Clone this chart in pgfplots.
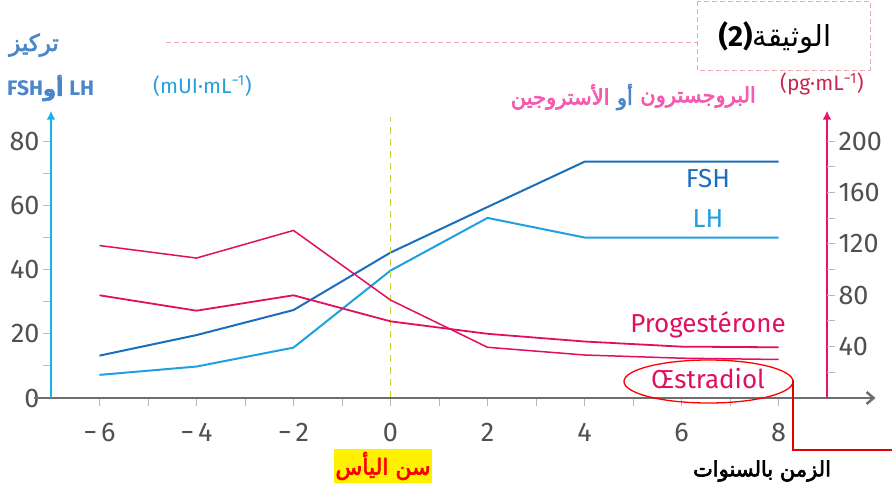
\documentclass[border=0pt]{standalone}
\usepackage{fontspec}
\setmainfont{Fira Sans}
\newfontfamily\arabicfont[Script=Arabic]{DejaVu Sans}
\newfontfamily\arabicbold[Script=Arabic,FakeBold=3]{DejaVu Sans}
\TeXXeTstate=1
\usepackage{pgfplots}
\pgfplotsset{compat=1.18}
\usetikzlibrary{arrows.meta}
\definecolor{fshblue}{RGB}{25,110,190}
\definecolor{lhblue}{RGB}{30,160,225}
\definecolor{hpink}{RGB}{225,15,95}
\definecolor{axcyan}{RGB}{20,180,230}
\definecolor{axpink}{RGB}{230,20,110}
\definecolor{axgray}{RGB}{110,110,110}
\definecolor{tickgray}{RGB}{80,80,80}
\definecolor{titleblue}{RGB}{75,135,200}
\definecolor{arpink}{RGB}{245,90,175}
\definecolor{dashpink}{RGB}{235,170,175}
\definecolor{vyellow}{RGB}{200,210,50}
\definecolor{unitcyan}{RGB}{40,160,220}
\definecolor{unitpink}{RGB}{200,40,80}
\begin{document}
\begin{tikzpicture}
\path[use as bounding box] (0,0) rectangle (892pt,-485pt);
\begin{axis}[
  at={(51pt,-398pt)}, anchor=south west,
  x=48.5pt, y=3.21pt,
  xmin=-7, xmax=9, ymin=0, ymax=88,
  clip=false,
  axis line style={draw=none},
  tick pos=left, tick align=outside,
  major tick length=8pt, minor tick length=8pt,
  tick style={draw=gray!55, line width=1pt},
  xtick={-6,-4,...,8}, minor xtick={-5,-3,...,7},
  xticklabels={−\hspace{4pt}6,−\hspace{4pt}4,−\hspace{4pt}2,0,2,4,6,8},
  xticklabel style={yshift=-14pt},
  ytick={0,20,...,80}, minor ytick={10,30,50,70},
  ticklabel style={font=\fontsize{27}{27}\selectfont, text=tickgray},
  /pgf/number format/assume math mode=true,
]
\addplot[fshblue, line width=2pt] coordinates {(-6,13.2)(-4,19.6)(-2,27.4)(0,45.3)(2,59.5)(4,73.6)(8,73.6)};
\addplot[lhblue, line width=2pt] coordinates {(-6,7.2)(-4,9.8)(-2,15.7)(0,39.7)(2,56.1)(4,50)(8,50)};
\draw[vyellow, line width=1.3pt, dash pattern=on 7pt off 5pt] (axis cs:0,0) -- (axis cs:0,87.5);
\draw[axgray, line width=2.5pt, -{Straight Barb[length=7pt,width=12pt]}] (axis cs:-7.35,0) -- (axis cs:10,0);
\draw[axcyan, line width=2.2pt, -{Latex[length=9pt,width=9pt]}] (axis cs:-7,0) -- (axis cs:-7,89.5);
\draw[axpink, line width=2.2pt, -{Latex[length=9pt,width=9pt]}] (axis cs:9,0) -- (axis cs:9,89.5);
\end{axis}
\begin{axis}[
  at={(51pt,-398pt)}, anchor=south west,
  x=48.5pt, y=1.284pt,
  xmin=-7, xmax=9, ymin=0, ymax=220,
  clip=false,
  axis line style={draw=none},
  xtick=\empty,
  ytick pos=right, tick align=outside,
  major tick length=8pt, minor tick length=8pt,
  tick style={draw=gray!55, line width=1pt},
  ytick={40,80,...,200}, minor ytick={20,60,...,180},
  ticklabel style={font=\fontsize{27}{27}\selectfont, text=tickgray},
  /pgf/number format/assume math mode=true,
]
\addplot[hpink, line width=1.8pt] coordinates {(-6,80)(-4,68)(-2,80)(0,59.7)(2,50)(4,44)(6,40)(8,39.5)};
\addplot[hpink, line width=1.5pt] coordinates {(-6,118.75)(-4,109)(-2,130.5)(0,76.3)(2,39.5)(4,33.5)(6,31)(8,30)};
\end{axis}
% texts
\node[text=titleblue, font=\arabicbold\fontsize{23}{23}\selectfont] at (34pt,-45pt) {\beginR تركيز\endR};
\node[text=titleblue, font=\bfseries\fontsize{21}{21}\selectfont, anchor=west, inner sep=0pt] at (7pt,-88pt) {FSH{\arabicbold\beginR أو\endR}\hspace{6pt}LH};
\node[text=unitcyan, font=\fontsize{21}{21}\selectfont, anchor=west, inner sep=0pt] at (153pt,-86pt) {(mUI·mL\textsuperscript{−1})};
\draw[dashpink, line width=1pt, dash pattern=on 5pt off 3pt] (166pt,-42pt) -- (697pt,-42pt);
\draw[dashpink, line width=1pt, dash pattern=on 5pt off 3pt] (697pt,-1pt) -- (697pt,-70pt) -- (870pt,-70pt) -- (870pt,-1pt) -- cycle;
\node[text=black, font=\fontsize{29}{29}\selectfont] at (775pt,-38pt) {\textbf{(2)}{\arabicfont\beginR الوثيقة\endR}};
\node[text=unitpink, font=\fontsize{21}{21}\selectfont, anchor=west, inner sep=0pt] at (780pt,-84pt) {(pg·mL\textsuperscript{−1})};
\node[text=arpink, font=\arabicbold\fontsize{21}{21}\selectfont, anchor=east, inner sep=0pt] (pr) at (756pt,-97pt) {\beginR البروجسترون\endR};
\node[text=titleblue, font=\arabicbold\fontsize{21}{21}\selectfont, anchor=east, inner sep=0pt] (ou) at ([xshift=-7pt]pr.west) {\beginR أو\endR};
\node[text=arpink, font=\arabicbold\fontsize{21}{21}\selectfont, anchor=east, inner sep=0pt] at ([xshift=-7pt]ou.west) {\beginR الأستروجين\endR};
\node[text=fshblue, font=\fontsize{26}{26}\selectfont] at (708pt,-179pt) {FSH};
\node[text=lhblue, font=\fontsize{26}{26}\selectfont] at (708pt,-219pt) {LH};
\node[text=hpink, font=\fontsize{26}{26}\selectfont, anchor=base] at (708pt,-332pt) {Progestérone};
\node[text=hpink, font=\fontsize{26}{26}\selectfont, anchor=base] at (708pt,-388pt) {Œstradiol};
\draw[red, line width=1.3pt] (708.5pt,-381.5pt) ellipse (84.5pt and 21.5pt);
\draw[red!90!black, line width=2pt] (793pt,-380pt) -- (793pt,-450pt) -- (892pt,-450pt);
\node[fill=yellow, text=red, font=\arabicbold\fontsize{22}{22}\selectfont, minimum width=97pt, minimum height=34pt, inner sep=1pt] at (383pt,-466pt) {\beginR سن اليأس\endR};
\node[text=black, font=\arabicbold\fontsize{21}{21}\selectfont] at (762pt,-471pt) {\beginR الزمن بالسنوات\endR};
\end{tikzpicture}
\end{document}
